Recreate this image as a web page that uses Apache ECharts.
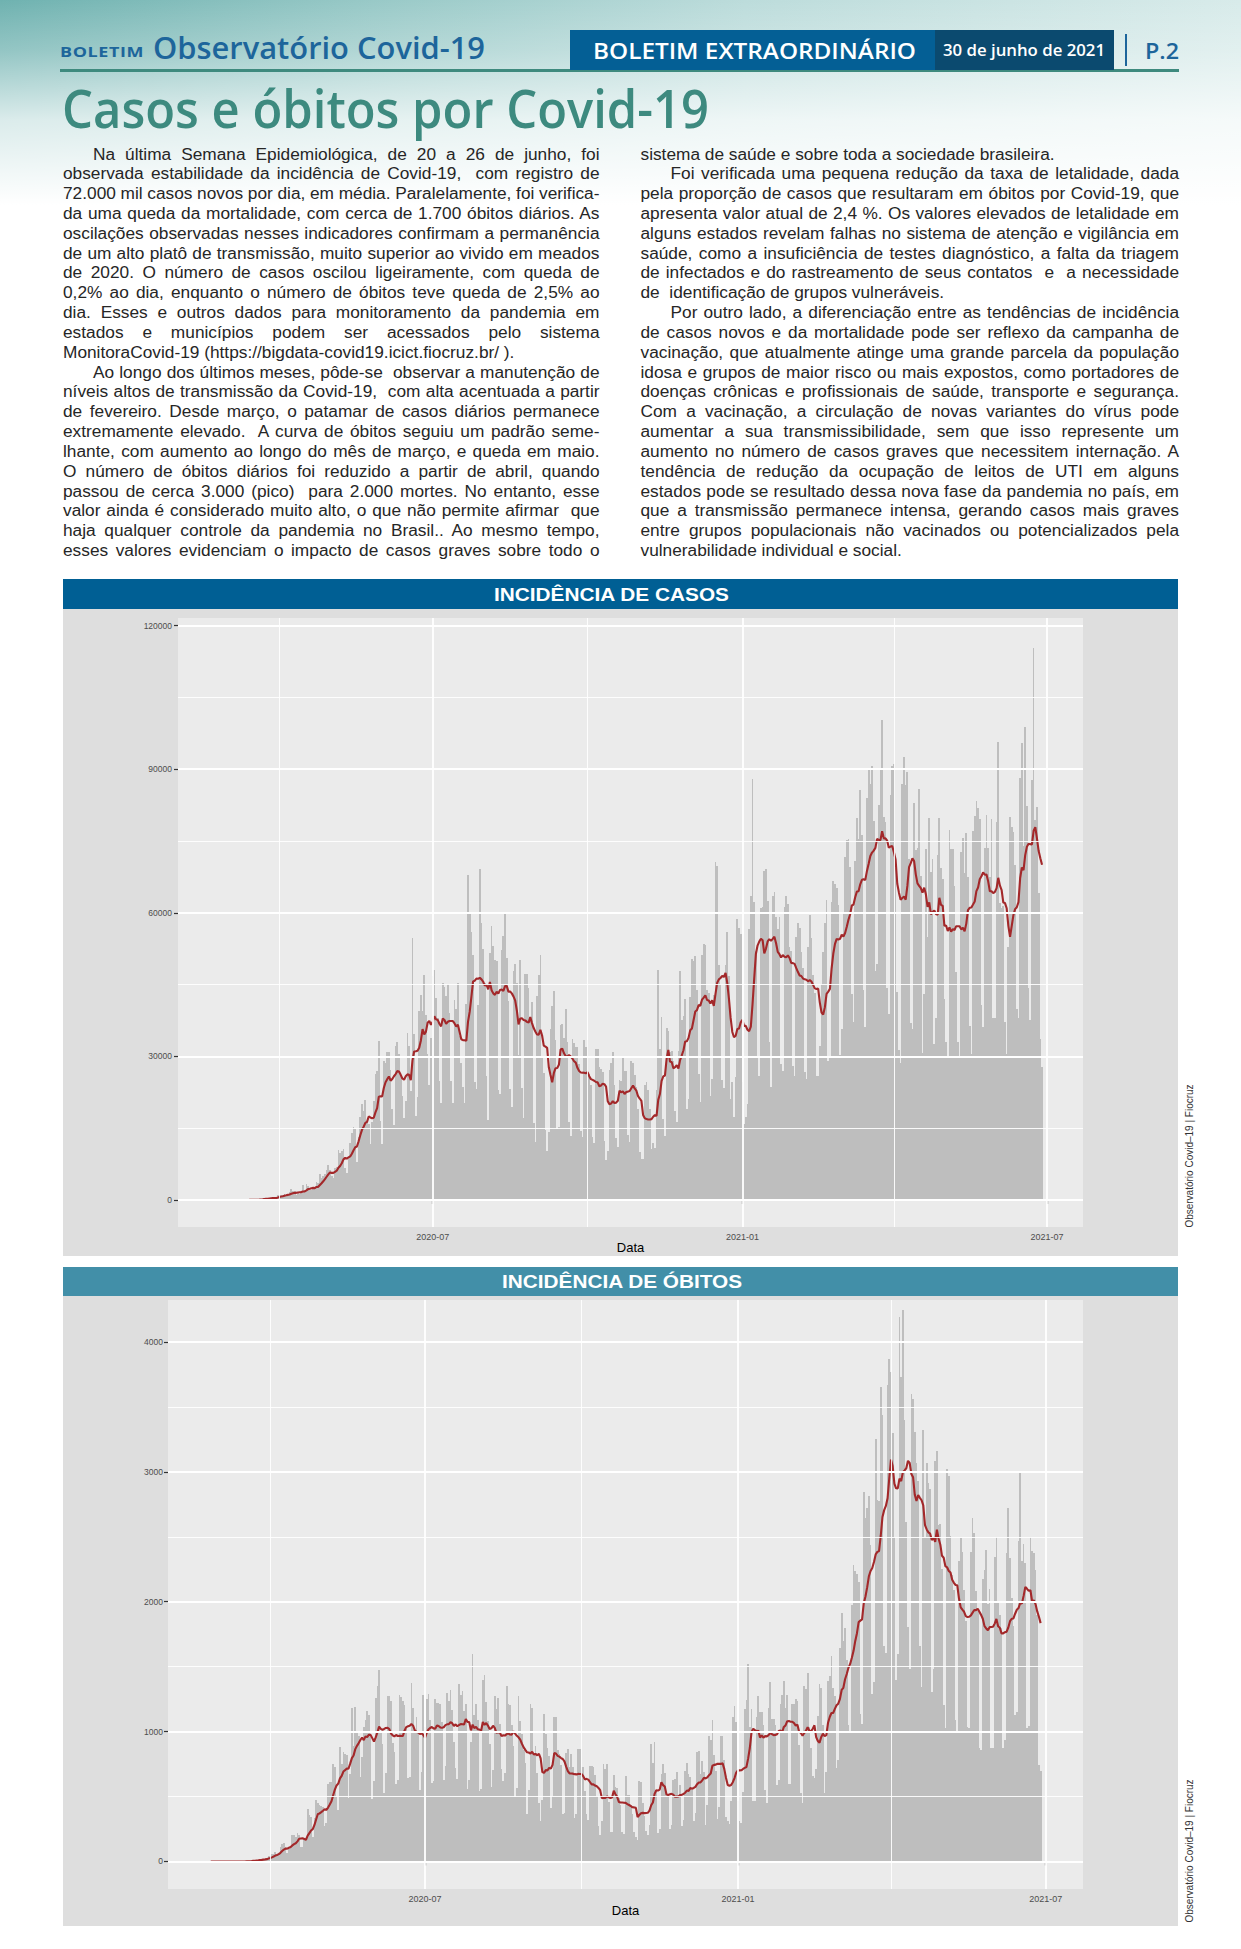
<!DOCTYPE html>
<html lang="pt-BR">
<head>
<meta charset="utf-8">
<title>Casos e óbitos por Covid-19</title>
<script src="https://cdn.jsdelivr.net/npm/echarts@6/dist/echarts.min.js"></script>
<style>
html,body{margin:0;padding:0;background:#fff;}
body{position:relative;width:1241px;height:1949px;overflow:hidden;font-family:'Liberation Sans',Arial,sans-serif;}
#wash{position:absolute;left:0;top:0;width:1241px;height:215px;
 background:
  linear-gradient(to bottom, rgba(255,255,255,0) 0px, rgba(255,255,255,0.25) 50px, rgba(255,255,255,0.75) 120px, rgba(255,255,255,1) 205px),
  linear-gradient(to right, #6fb2b0 0%, #98c9c7 30%, #bcdcdb 60%, #d8ebea 100%);}
.abs{position:absolute;white-space:pre;}
.hd{font-family:'Open Sans','Liberation Sans',sans-serif;font-weight:700;line-height:1;}
.ln{position:absolute;white-space:pre;font-size:17.3px;line-height:19.83px;color:#262626;font-family:'Liberation Sans',Arial,sans-serif;}
.bar{position:absolute;}
.ct{position:absolute;white-space:pre;font-family:'Liberation Sans',Arial,sans-serif;font-weight:700;font-size:19px;line-height:19px;color:#fff;}
.cap{position:absolute;width:170px;text-align:center;font-size:10px;line-height:12px;color:#333;white-space:pre;transform:rotate(-90deg);transform-origin:50% 50%;font-family:'Liberation Sans',Arial,sans-serif;}
.xname{position:absolute;width:100px;text-align:center;font-size:13px;line-height:13px;color:#000;font-family:'Liberation Sans',Arial,sans-serif;z-index:5;}
.chart{position:absolute;}
.chart svg path:not([fill="none"]){shape-rendering:crispEdges;}
</style>
</head>
<body>
<div id="wash"></div>
<div class="bar" style="left:60px;top:68.5px;width:1119px;height:3px;background:#3e8a7e;"></div>
<div class="abs hd fit" data-w="84" style="left:60px;top:44px;font-size:15px;color:#1d659b;letter-spacing:0.5px;">BOLETIM</div>
<div class="abs hd fit" data-w="332" style="left:153px;top:32px;font-size:31px;color:#1d659b;font-weight:600;">Observatório Covid-19</div>
<div class="bar" style="left:569.5px;top:30px;width:365.5px;height:40px;background:#045f95;"></div>
<div class="abs hd fit" data-w="323" style="left:593px;top:38.5px;font-size:22px;color:#fff;font-weight:600;">BOLETIM EXTRAORDINÁRIO</div>
<div class="bar" style="left:935px;top:30px;width:179px;height:40px;background:#0b4a6f;"></div>
<div class="abs hd fit" data-w="162" style="left:943px;top:41.5px;font-size:16px;color:#fff;font-weight:600;">30 de junho de 2021</div>
<div class="bar" style="left:1124.5px;top:34px;width:2px;height:32px;background:#1d659b;"></div>
<div class="abs hd fit" data-w="34" style="left:1145px;top:38.5px;font-size:22px;color:#1d659b;font-weight:600;">P.2</div>
<div class="abs hd fit" data-w="647" style="left:62px;top:82px;font-size:52px;color:#3d8a7f;font-weight:600;">Casos e óbitos por Covid-19</div>

<div class="bar" style="left:63px;top:579px;width:1115px;height:30px;background:#005f94;"></div>
<div class="ct fit" data-w="235" style="left:494px;top:584.7px;">INCIDÊNCIA DE CASOS</div>
<div id="c1" class="chart" style="left:63px;top:609px;width:1115px;height:647px;"></div>
<div class="xname" style="left:580.5px;top:1240.5px;">Data</div>
<div class="cap" style="left:1105px;top:1150px;">Observatório Covid–19 | Fiocruz</div>

<div class="bar" style="left:63px;top:1267px;width:1115px;height:29px;background:#428fa8;"></div>
<div class="ct fit" data-w="240" style="left:502px;top:1272.2px;">INCIDÊNCIA DE ÓBITOS</div>
<div id="c2" class="chart" style="left:63px;top:1296px;width:1115px;height:630px;"></div>
<div class="xname" style="left:575.5px;top:1903.5px;">Data</div>
<div class="cap" style="left:1105px;top:1845px;">Observatório Covid–19 | Fiocruz</div>

<script>
// ---------------- DATA ----------------
const startDate = '2020-02-26';
// Casos novos diários (em milhares), semanas de quarta a terça
const casosMil = [
0.001,0,0,0.001,0,0,0,
0.001,0.005,0.005,0.005,0.008,0.005,0.006,
0.018,0.025,0.021,0.026,0.079,0.034,0.057,
0.057,0.137,0.193,0.283,0.224,0.418,0.345,
0.232,0.482,0.502,0.487,0.352,0.323,1.138,
1.119,1.074,1.146,1.222,0.852,0.926,1.661,
2.210,1.930,1.781,1.089,1.442,1.261,1.832,
3.058,2.105,3.257,2.917,1.996,2.089,2.336,
2.678,3.735,3.503,5.514,4.613,4.970,5.385,
6.276,7.218,6.209,4.970,4.588,6.633,6.935,
10.503,9.888,10.222,10.611,6.760,5.632,8.620,
11.923,13.944,15.305,14.919,7.938,13.140,17.408,
19.951,18.508,20.803,16.508,15.813,11.687,16.324,
20.599,26.417,26.928,33.274,16.409,11.598,28.936,
28.633,30.925,30.830,27.075,18.912,15.654,32.091,
32.913,30.412,25.982,21.704,17.110,20.647,34.918,
32.188,22.765,54.771,34.666,17.459,21.432,39.436,
42.725,39.483,46.907,38.693,30.476,24.052,33.846,
46.712,48.105,42.223,37.923,24.831,20.229,45.305,
44.571,42.619,45.048,39.023,24.831,20.286,41.857,
39.924,45.403,34.177,28.532,23.529,20.257,41.008,
67.860,59.961,55.891,51.147,24.578,23.284,40.816,
69.074,57.837,52.383,45.392,25.800,16.641,51.603,
57.152,53.139,50.230,49.970,23.010,22.048,52.160,
55.155,60.091,50.644,41.576,23.101,19.373,47.784,
49.298,45.323,30.355,50.032,23.421,17.046,47.134,
47.161,44.235,38.307,41.350,16.158,12.076,42.659,
46.934,51.200,30.168,26.580,14.521,10.273,14.279,
35.816,40.557,43.718,33.523,14.768,15.155,36.653,
36.820,33.835,39.797,33.057,16.389,13.439,33.536,
32.817,31.911,32.058,28.378,14.318,13.155,33.413,
32.058,33.413,26.310,24.062,13.155,11.946,31.553,
31.553,27.750,27.444,26.749,12.342,8.429,10.220,
27.235,28.523,30.914,24.062,13.006,11.103,25.002,
24.818,30.026,26.979,27.016,13.493,12.035,29.015,
28.629,26.106,23.555,18.947,10.100,8.501,8.501,
23.976,24.708,22.961,19.011,10.554,12.000,10.917,
23.000,48.000,31.468,38.307,17.019,13.371,35.826,
35.294,30.914,31.100,29.070,18.615,16.207,31.100,
47.898,37.614,38.397,41.931,18.947,21.138,42.408,
50.434,49.863,50.883,43.868,26.363,20.371,51.088,
53.453,53.347,43.900,43.225,21.825,25.193,42.889,
70.574,69.826,49.111,45.200,25.019,23.445,48.996,
55.899,46.696,21.006,24.605,17.341,25.614,58.718,
56.773,55.649,24.605,15.827,17.341,20.006,56.648,
63.430,87.843,62.290,52.035,29.792,25.822,60.899,
61.149,68.692,69.198,62.532,33.040,23.671,63.504,
64.385,59.119,56.552,59.119,28.323,27.006,61.289,
63.520,61.811,52.742,52.000,28.000,25.904,54.969,
57.848,56.873,51.879,48.370,26.816,25.219,52.742,
59.602,54.742,47.067,43.221,25.904,25.904,32.197,
45.045,51.879,57.848,62.715,29.026,29.963,62.337,
66.588,65.998,65.169,61.602,30.354,35.742,59.925,
71.704,75.102,75.412,69.609,43.080,37.091,70.764,
79.876,75.495,85.663,76.178,43.812,36.239,83.926,
90.303,86.982,90.570,79.069,47.774,49.293,82.493,
89.992,100.158,80.012,79.045,44.326,38.927,84.494,
90.638,91.097,69.379,43.515,31.359,28.645,86.979,
92.625,86.652,89.405,71.130,37.017,35.785,82.986,
73.174,73.513,85.774,67.636,30.624,42.937,73.295,
55.000,79.719,68.513,71.137,32.572,38.011,72.140,
79.726,69.389,67.009,42.087,33.012,30.004,77.359,
73.380,73.295,65.596,47.700,33.007,30.016,72.715,
75.652,68.333,76.692,67.467,36.315,30.434,77.044,
80.219,83.391,81.984,79.670,40.630,36.210,73.453,
80.486,73.453,67.467,79.670,37.948,38.031,78.926,
95.601,62.000,61.000,61.421,37.126,30.434,52.911,
80.000,78.000,76.855,70.000,39.846,38.031,88.092,
95.367,74.042,98.832,82.288,44.178,37.498,87.822,
115.228,79.277,82.125,64.134,33.704,27.804
];
// Óbitos diários, semanas de quarta a terça
const obitos = [
0,0,0,0,0,0,0,
0,0,0,0,0,0,0,
0,0,0,0,0,0,1,
3,3,7,7,10,9,12,
11,20,15,22,22,23,42,
40,58,60,73,54,67,114,
133,141,115,68,99,105,204,
204,188,217,206,115,113,166,
165,407,357,346,189,338,474,
449,435,428,421,275,296,600,
615,610,751,730,496,396,881,
749,844,824,816,485,674,1179,
888,1188,1001,965,653,807,1039,
1086,1156,1124,956,480,623,1262,
1349,1473,1005,904,525,679,1272,
1274,1239,909,843,598,627,1282,
1269,1238,1206,1022,641,654,1374,
1185,990,1109,1006,552,692,1280,
1038,1252,1290,1091,602,620,1254,
1223,1220,1214,1071,631,733,1300,
1233,1322,1163,921,716,632,1367,
1284,1311,1156,1211,555,627,921,
1595,1129,1212,1088,541,561,1394,
1437,1226,1079,905,572,703,1274,
1175,1262,1060,709,620,684,1352,
1212,1204,1054,892,494,565,1271,
1085,984,855,758,366,553,1215,
1184,834,887,682,447,310,476,
1136,983,874,814,415,507,1113,
1113,858,829,739,363,377,836,
869,729,831,729,335,363,863,
863,729,727,544,363,323,734,
734,730,664,505,271,201,309,
754,713,754,461,230,228,669,
571,566,485,432,230,215,657,
510,513,432,362,225,191,162,
620,609,451,347,233,201,280,
908,755,921,541,216,251,676,
754,678,495,516,247,280,630,
638,691,503,587,272,317,697,
755,673,654,554,313,376,842,
848,672,770,686,279,433,964,
936,1092,818,699,327,423,963,
968,779,344,314,290,465,1111,
1194,1074,462,314,293,536,1171,
1242,1524,1035,1171,469,469,1110,
1274,1151,1151,1050,551,452,1183,
1382,1096,1096,1054,592,627,1214,
1283,1386,1180,1279,597,595,1209,
1209,1254,1232,900,527,452,1350,
1330,1452,1032,877,658,639,713,
1120,1367,1337,1051,527,690,1386,
1428,1582,1337,1274,721,778,1641,
1910,1699,1800,1555,1054,987,1972,
2286,2233,2216,2152,1133,1057,2841,
2648,2724,2815,2438,1290,1383,3251,
2780,2777,3650,3439,1656,1607,3668,
3869,3769,3300,2500,1400,1600,4195,
3733,4249,3400,2616,1803,1480,3600,
3560,3305,3070,2929,1657,1347,3321,
2500,3070,2914,2865,1305,1481,3086,
3163,2592,2595,2253,1202,1024,3025,
2966,2507,2202,2091,1086,1006,2311,
2494,2383,2087,1855,1036,1025,2383,
2641,2527,2080,1927,872,860,2173,
2245,2400,1979,2100,876,873,2346,
2500,2000,1900,1800,874,935,2378,
2723,2340,2032,1816,1129,1149,2468,
2997,2311,2444,2301,1025,1041,2500,
2392,2374,2245,1900,739,695
];
const xTickDates = ['2020-07-01','2021-01-01','2021-07-01'];
const xTickLabels = ['2020-07','2021-01','2021-07'];
const xMinorDates = ['2020-04-01','2020-10-01','2021-04-01'];
const casosTicks = [0,30000,60000,90000,120000];
const casosMinor = [15000,45000,75000,105000];
const obitosTicks = [0,1000,2000,3000,4000];
const obitosMinor = [500,1500,2500,3500];

// ---------------- TEXT ----------------
const leftLines = [
'>Na última Semana Epidemiológica, de 20 a 26 de junho, foi',
'observada estabilidade da incidência de Covid-19,  com registro de',
'72.000 mil casos novos por dia, em média. Paralelamente, foi verifica-',
'da uma queda da mortalidade, com cerca de 1.700 óbitos diários. As',
'oscilações observadas nesses indicadores confirmam a permanência',
'de um alto platô de transmissão, muito superior ao vivido em meados',
'de 2020. O número de casos oscilou ligeiramente, com queda de',
'0,2% ao dia, enquanto o número de óbitos teve queda de 2,5% ao',
'dia. Esses e outros dados para monitoramento da pandemia em',
'estados e municípios podem ser acessados pelo sistema',
'MonitoraCovid-19 (https://bigdata-covid19.icict.fiocruz.br/ ).|',
'>Ao longo dos últimos meses, pôde-se  observar a manutenção de',
'níveis altos de transmissão da Covid-19,  com alta acentuada a partir',
'de fevereiro. Desde março, o patamar de casos diários permanece',
'extremamente elevado.  A curva de óbitos seguiu um padrão seme-',
'lhante, com aumento ao longo do mês de março, e queda em maio.',
'O número de óbitos diários foi reduzido a partir de abril, quando',
'passou de cerca 3.000 (pico)  para 2.000 mortes. No entanto, esse',
'valor ainda é considerado muito alto, o que não permite afirmar  que',
'haja qualquer controle da pandemia no Brasil.. Ao mesmo tempo,',
'esses valores evidenciam o impacto de casos graves sobre todo o'
];
const rightLines = [
'sistema de saúde e sobre toda a sociedade brasileira.|',
'>Foi verificada uma pequena redução da taxa de letalidade, dada',
'pela proporção de casos que resultaram em óbitos por Covid-19, que',
'apresenta valor atual de 2,4 %. Os valores elevados de letalidade em',
'alguns estados revelam falhas no sistema de atenção e vigilância em',
'saúde, como a insuficiência de testes diagnóstico, a falta da triagem',
'de infectados e do rastreamento de seus contatos  e  a necessidade',
'de  identificação de grupos vulneráveis.|',
'>Por outro lado, a diferenciação entre as tendências de incidência',
'de casos novos e da mortalidade pode ser reflexo da campanha de',
'vacinação, que atualmente atinge uma grande parcela da população',
'idosa e grupos de maior risco ou mais expostos, como portadores de',
'doenças crônicas e profissionais de saúde, transporte e segurança.',
'Com a vacinação, a circulação de novas variantes do vírus pode',
'aumentar a sua transmissibilidade, sem que isso represente um',
'aumento no número de casos graves que necessitem internação. A',
'tendência de redução da ocupação de leitos de UTI em alguns',
'estados pode se resultado dessa nova fase da pandemia no país, em',
'que a transmissão permanece intensa, gerando casos mais graves',
'entre grupos populacionais não vacinados ou potencializados pela',
'vulnerabilidade individual e social.|'
];

function placeLines(lines, left, width, top0, lh){
  lines.forEach((raw,i)=>{
    let s = raw, indent = 0, just = true;
    if (s.startsWith('>')) { indent = 30; s = s.slice(1); }
    if (s.endsWith('|')) { just = false; s = s.slice(0,-1); }
    const d = document.createElement('div');
    d.className = 'ln';
    d.style.left = (left+indent)+'px';
    d.style.top = (top0 + i*lh)+'px';
    d.textContent = s;
    document.body.appendChild(d);
    const target = width - indent;
    let w = d.getBoundingClientRect().width;
    const n = (s.match(/ /g)||[]).length;
    if (just && w < target && n) {
      d.style.wordSpacing = ((target - w)/n)+'px';
    } else if (w > target) {
      if (n) {
        const ws = Math.max(-2.2, -(w - target)/n);
        d.style.wordSpacing = ws + 'px';
        w = d.getBoundingClientRect().width;
      }
      if (w > target) {
        d.style.transformOrigin = '0 0';
        d.style.transform = 'scaleX(' + (target/w) + ')';
      }
    }
  });
}
function fitAll(){
  document.querySelectorAll('.fit').forEach(el=>{
    const t = parseFloat(el.dataset.w);
    const w = el.getBoundingClientRect().width;
    el.style.transformOrigin = '0 50%';
    el.style.transform = 'scaleX(' + (t/w) + ')';
  });
}

// ---------------- CHARTS ----------------
const DAY = 86400000;
function ts(s){ const p = s.split('-').map(Number); return Date.UTC(p[0],p[1]-1,p[2]); }
const t0 = ts(startDate);
function movingAvg(arr, k){
  return arr.map((_,i)=>{ const a = Math.max(0,i-k+1); let s = 0; for(let j=a;j<=i;j++) s+=arr[j]; return s/(i-a+1); });
}
const xTickTs = xTickDates.map(ts);
function fmtX(v){
  let best = 0, bd = Infinity;
  xTickTs.forEach((t,k)=>{ const d = Math.abs(t - v); if (d < bd) { bd = d; best = k; } });
  return xTickLabels[best];
}

function makeChart(id, o){
  const el = document.getElementById(id);
  const chart = echarts.init(el, null, {renderer:'svg', width: el.clientWidth, height: el.clientHeight});
  const bars = o.values.map((v,i)=>[t0 + i*DAY, v]);
  const ma = movingAvg(o.values, 7).map((v,i)=>[t0 + i*DAY, v]);
  const W = '#ffffff';
  const gridLines = [].concat(
    o.yMinor.map(v=>({yAxis:v, lineStyle:{color:W, width:0.9, type:'solid'}})),
    o.yMajor.map(v=>({yAxis:v, lineStyle:{color:W, width:1.8, type:'solid'}})),
    xMinorDates.map(d=>({xAxis:ts(d), lineStyle:{color:W, width:0.9, type:'solid'}})),
    xTickDates.map(d=>({xAxis:ts(d), lineStyle:{color:W, width:1.8, type:'solid'}}))
  );
  chart.setOption({
    animation:false,
    backgroundColor:'#dedede',
    grid:{left:o.left, top:o.top, width:o.width, height:o.height, show:true, backgroundColor:'#ebebeb', borderWidth:0,
          containLabel:false, outerBoundsMode:'none'},
    xAxis:{
      type:'value', min:o.xMin, max:o.xMax, scale:true,
      axisLine:{show:false}, splitLine:{show:false},
      axisTick:{show:true, customValues:xTickTs, length:4, lineStyle:{color:'#333', width:1.2}},
      axisLabel:{show:true, customValues:xTickTs, formatter:fmtX, fontSize:9, color:'#4d4d4d', margin:5, fontFamily:'Liberation Sans'}
    },
    yAxis:{
      type:'value', min:o.yMin, max:o.yMax,
      axisLine:{show:false}, splitLine:{show:false},
      axisTick:{show:true, customValues:o.yMajor, length:4, lineStyle:{color:'#333', width:1.2}},
      axisLabel:{show:true, customValues:o.yMajor, formatter:(v)=>String(Math.round(v)), fontSize:8.5, color:'#4d4d4d', margin:o.yMargin, fontFamily:'Liberation Sans'}
    },
    series:[
      {type:'line', data:[], silent:true, z:1,
       markLine:{silent:true, symbol:['none','none'], label:{show:false}, animation:false, data:gridLines}},
      {type:'bar', data:bars, barWidth:1.75, itemStyle:{color:'#bebebe'}, z:2, silent:true},
      {type:'line', data:ma, showSymbol:false, symbol:'none', lineStyle:{color:'#a3282a', width:2.1}, z:3, silent:true}
    ]
  });
}

function render(){
  placeLines(leftLines, 63, 536.5, 144.5, 19.83);
  placeLines(rightLines, 640.5, 538.5, 144.5, 19.83);
  fitAll();
  makeChart('c1', {
    values: casosMil.map(v=>v*1000),
    left:115, top:9, width:905, height:609,
    xMin: Date.UTC(2020,0,31,17), xMax: Date.UTC(2021,6,22,8),
    yMin:-5640, yMax:121567, yMajor:casosTicks, yMinor:casosMinor,
    yMargin:6
  });
  makeChart('c2', {
    values: obitos,
    left:105, top:4, width:915, height:589,
    xMin: Date.UTC(2020,0,31,21), xMax: Date.UTC(2021,6,22,22),
    yMin:-212, yMax:4323, yMajor:obitosTicks, yMinor:obitosMinor,
    yMargin:5
  });
}
if (document.fonts && document.fonts.ready) { document.fonts.ready.then(render); } else { render(); }
</script>
</body>
</html>
